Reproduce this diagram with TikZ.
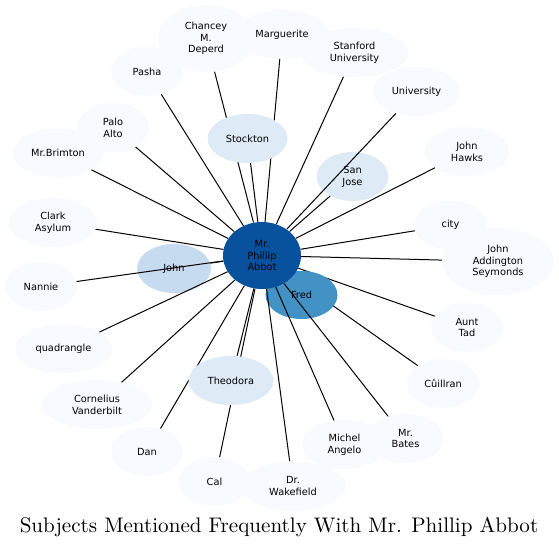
\documentclass[tikz,border=0pt]{standalone}
\usepackage{fontspec}
\usepackage{xcolor}
\usepackage{tikz}
\usetikzlibrary{shapes.geometric}
\newfontfamily\dejavu{DejaVu Sans}
\newfontfamily\titlefont{lmroman10-regular.otf}
\definecolor{blue0}{HTML}{F7FBFF}
\definecolor{blue1}{HTML}{DEEBF7}
\definecolor{blue2}{HTML}{C6DBEF}
\definecolor{blue3}{HTML}{4292C6}
\definecolor{blue4}{HTML}{08519C}
\pgfdeclarelayer{low}
\pgfdeclarelayer{mid}
\pgfdeclarelayer{wire}
\pgfsetlayers{low,mid,wire,main}

\begin{document}
\begin{tikzpicture}[x=1pt,y=-1pt,
  ent/.style={ellipse,inner sep=0pt,minimum width=72pt,minimum height=49pt,
    align=center,font=\dejavu\fontsize{9.8}{11.7}\selectfont},
  tall/.style={minimum height=67pt},
  rare/.style={ent,fill=blue0},
  some/.style={ent,fill=blue1},
  edge/.style={line width=1pt,black}
]
\useasboundingbox (0,0) rectangle (559,547);
%--- centre ---
\node[ent,tall,fill=blue4,minimum width=78pt] (abbot) at (262,255.5) {Mr.\\Phillip\\Abbot};
%--- inner ring ---
\node[some,minimum width=80pt] (stockton) at (247.5,138.5) {Stockton};
\node[some,minimum width=85pt] (theodora) at (231,380.5) {Theodora};
\begin{pgfonlayer}{mid}
  \node[some] (sanjose) at (352.5,176.5) {San\\Jose};
  \node[ent,fill=blue2,minimum width=74pt] (john) at (174,268.5) {John};
  \node[ent,fill=blue3,minimum height=48pt] (fred) at (301.5,295) {Fred};
\end{pgfonlayer}
%--- outer ring ---
\node[rare,minimum width=72pt] (pasha) at (147,71.5) {Pasha};
\node[rare,tall,minimum width=95pt] (chancey) at (206,38.5) {Chancey\\M.\\Deperd};
\node[rare,minimum width=92pt] (marguerite) at (282,34.5) {Marguerite};
\node[rare,minimum width=107pt] (stanford) at (354.5,52.5) {Stanford\\University};
\node[rare,minimum width=87pt] (university) at (416.5,91.5) {University};
\node[rare,minimum width=84pt] (hawks) at (467,151.5) {John\\Hawks};
\node[rare,minimum width=73pt] (city) at (450.5,225) {city};
\node[rare,tall,minimum width=112pt] (seymonds) at (498,261.5) {John\\Addington\\Seymonds};
\node[rare] (tad) at (467,327.5) {Aunt\\Tad};
\node[rare] (cuillran) at (443,383.5) {Cûillran};
\node[rare,minimum width=85pt] (michel) at (344.5,444.5) {Michel\\Angelo};
\node[rare,minimum width=77pt] (bates) at (405.5,438.5) {Mr.\\Bates};
\node[rare] (cal) at (214.5,481.5) {Cal};
\node[rare,minimum width=106pt] (wakefield) at (293,486) {Dr.\\Wakefield};
\node[rare] (dan) at (147,451.5) {Dan};
\node[rare,minimum width=110pt] (cornelius) at (97,404.5) {Cornelius\\Vanderbilt};
\node[rare,minimum width=97pt] (quad) at (63.5,349) {quadrangle};
\node[rare] (nannie) at (41,286.5) {Nannie};
\node[rare,minimum width=88pt] (clark) at (53,222.5) {Clark\\Asylum};
\node[rare] (palo) at (113,127.5) {Palo\\Alto};
\node[rare,minimum width=90pt] (brimton) at (58,153) {Mr.Brimton};
%--- edges ---
\begin{pgfonlayer}{low}
  \foreach \t in {tad,cuillran}
    \draw[edge] (abbot) -- (\t);
\end{pgfonlayer}
\begin{pgfonlayer}{wire}
  \foreach \t in {fred,john,sanjose,stockton,theodora,pasha,chancey,marguerite,
      stanford,university,hawks,city,seymonds,michel,bates,cal,wakefield,dan,
      cornelius,quad,nannie,clark,palo,brimton}
    \draw[edge] (abbot) -- (\t);
\end{pgfonlayer}
%--- title ---
\node[anchor=base,font=\titlefont\fontsize{21.1}{25}\selectfont] (title) at (279,532)
  {Subjects Mentioned Frequently With Mr. Phillip Abbot};
\end{tikzpicture}
\end{document}
